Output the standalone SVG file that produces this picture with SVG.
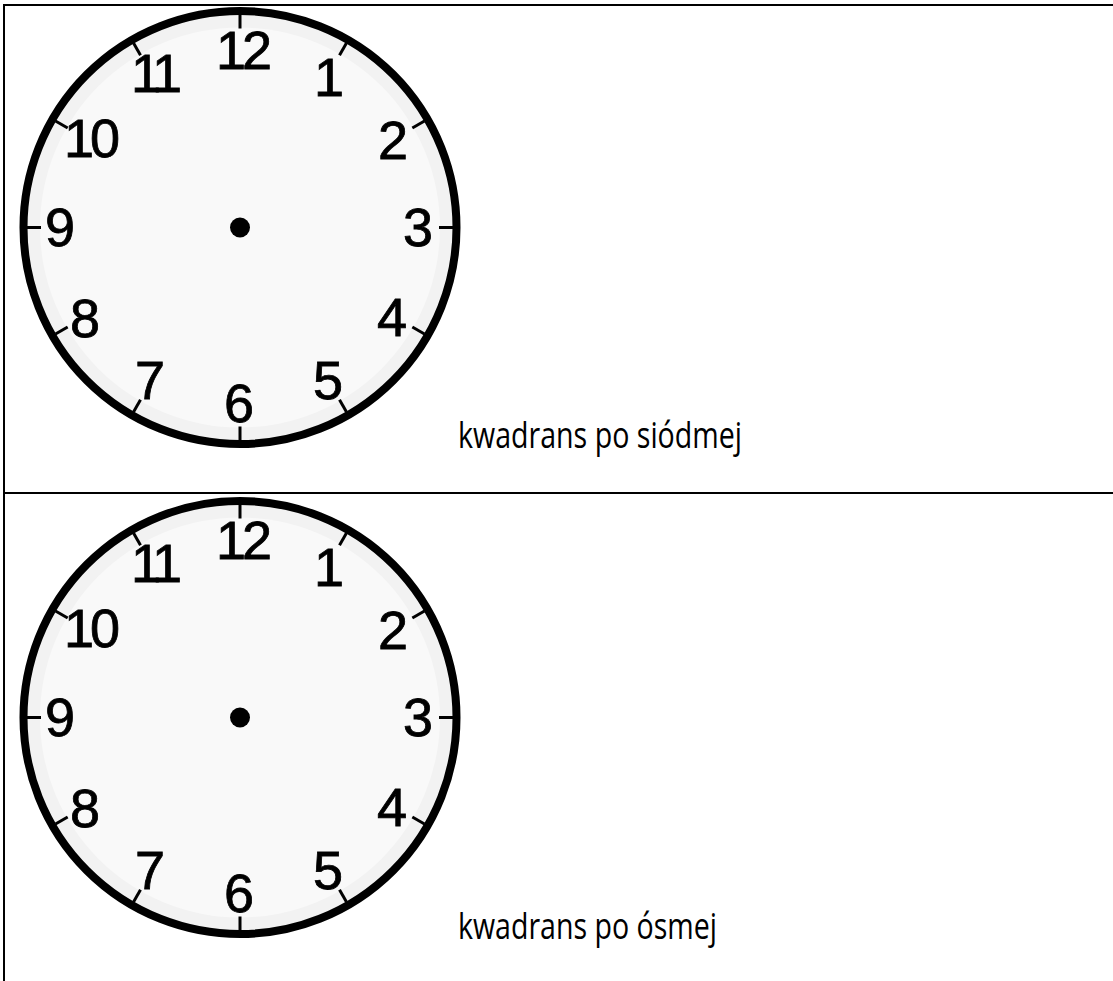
<svg xmlns="http://www.w3.org/2000/svg" width="1113" height="981" viewBox="0 0 1113 981">
<style>
.rim{fill:#f2f2f2;stroke:#000;stroke-width:8}
.face{fill:#f9f9f9}
.tick{stroke:#000;stroke-width:3;stroke-linecap:butt}
.num{font-family:"Liberation Sans","DejaVu Sans",sans-serif;font-size:54px;fill:#000;stroke:#000;stroke-width:0.8;text-anchor:middle;dominant-baseline:central}
.tight{letter-spacing:-4px}
.tight11{letter-spacing:-5px}
.lbl{font-family:"Open Sans","Liberation Sans",sans-serif;font-size:37px;fill:#000}
.grid{stroke:#000;stroke-width:2;fill:none}
</style>
<rect x="0" y="0" width="1113" height="981" fill="#fff"/>
<g id="table" class="grid">
<line x1="4" y1="5" x2="1113" y2="5"/>
<line x1="4" y1="493" x2="1113" y2="493"/>
<line x1="4" y1="4" x2="4" y2="981"/>
</g>
<g id="clock1">
<circle class="rim" cx="240" cy="227.5" r="216.5"/>
<circle class="face" cx="240" cy="227.5" r="200"/>
<g class="tick" transform="translate(240 227.5)">
<line x1="0" y1="-213" x2="0" y2="-199"/>
<line x1="0" y1="213" x2="0" y2="199"/>
<line x1="-213" y1="0" x2="-199" y2="0"/>
<line x1="213" y1="0" x2="199" y2="0"/>
<line x1="0" y1="-213" x2="0" y2="-199" transform="rotate(30)"/>
<line x1="0" y1="-213" x2="0" y2="-199" transform="rotate(60)"/>
<line x1="0" y1="-213" x2="0" y2="-199" transform="rotate(120)"/>
<line x1="0" y1="-213" x2="0" y2="-199" transform="rotate(150)"/>
<line x1="0" y1="-213" x2="0" y2="-199" transform="rotate(210)"/>
<line x1="0" y1="-213" x2="0" y2="-199" transform="rotate(240)"/>
<line x1="0" y1="-213" x2="0" y2="-199" transform="rotate(300)"/>
<line x1="0" y1="-213" x2="0" y2="-199" transform="rotate(330)"/>
</g>
<text class="num tight" x="242" y="50">12</text>
<text class="num" x="329" y="77">1</text>
<text class="num" x="393" y="140">2</text>
<text class="num" x="418" y="227">3</text>
<text class="num" x="392" y="317">4</text>
<text class="num" x="328" y="380">5</text>
<text class="num" x="239" y="403">6</text>
<text class="num" x="150" y="380">7</text>
<text class="num" x="85" y="318">8</text>
<text class="num" x="60" y="227">9</text>
<text class="num tight" x="90" y="138">10</text>
<text class="num tight11" x="154" y="73">11</text>
<circle cx="240" cy="227.5" r="10" fill="#000"/>
</g>
<g id="label1">
<text class="lbl" x="458" y="448" textLength="284" lengthAdjust="spacingAndGlyphs">kwadrans po siódmej</text>
</g>
<g id="clock2">
<circle class="rim" cx="240" cy="717.5" r="216.5"/>
<circle class="face" cx="240" cy="717.5" r="200"/>
<g class="tick" transform="translate(240 717.5)">
<line x1="0" y1="-213" x2="0" y2="-199"/>
<line x1="0" y1="213" x2="0" y2="199"/>
<line x1="-213" y1="0" x2="-199" y2="0"/>
<line x1="213" y1="0" x2="199" y2="0"/>
<line x1="0" y1="-213" x2="0" y2="-199" transform="rotate(30)"/>
<line x1="0" y1="-213" x2="0" y2="-199" transform="rotate(60)"/>
<line x1="0" y1="-213" x2="0" y2="-199" transform="rotate(120)"/>
<line x1="0" y1="-213" x2="0" y2="-199" transform="rotate(150)"/>
<line x1="0" y1="-213" x2="0" y2="-199" transform="rotate(210)"/>
<line x1="0" y1="-213" x2="0" y2="-199" transform="rotate(240)"/>
<line x1="0" y1="-213" x2="0" y2="-199" transform="rotate(300)"/>
<line x1="0" y1="-213" x2="0" y2="-199" transform="rotate(330)"/>
</g>
<text class="num tight" x="242" y="540">12</text>
<text class="num" x="329" y="567">1</text>
<text class="num" x="393" y="630">2</text>
<text class="num" x="418" y="717">3</text>
<text class="num" x="392" y="807">4</text>
<text class="num" x="328" y="870">5</text>
<text class="num" x="239" y="893">6</text>
<text class="num" x="150" y="870">7</text>
<text class="num" x="85" y="808">8</text>
<text class="num" x="60" y="717">9</text>
<text class="num tight" x="90" y="628">10</text>
<text class="num tight11" x="154" y="563">11</text>
<circle cx="240" cy="717.5" r="10" fill="#000"/>
</g>
<g id="label2">
<text class="lbl" x="458" y="939" textLength="259" lengthAdjust="spacingAndGlyphs">kwadrans po ósmej</text>
</g>
</svg>
